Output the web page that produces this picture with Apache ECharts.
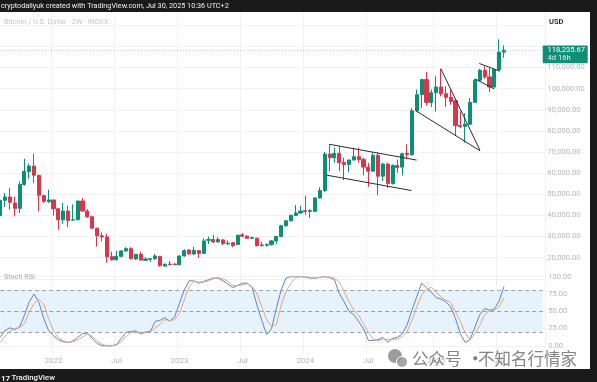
<!DOCTYPE html>
<html><head><meta charset="utf-8">
<style>html,body{margin:0;padding:0;background:#fff}#c{width:597px;height:382px}</style>
<script src="https://cdn.jsdelivr.net/npm/echarts@6/dist/echarts.min.js"></script>
</head><body><div id="c"></div>
<script>
// [open, close, low, high] per 2-week bar
const candles = [
[39840,47140,37620,48250],[47140,48730,43960,50630],[48730,46190,42690,53010],[45870,43330,39520,49040],
[43330,54600,41110,56180],[54600,60790,54120,66820],[60790,63330,57300,64600],[63330,59040,55390,69200],
[58880,49520,41900,59360],[49360,46660,45870,49840],[46500,47300,45870,52220],[47300,43170,39840,47460],
[43170,37930,33170,43300],[37930,42060,36030,45870],[42060,37620,34440,44600],[37780,37930,37620,45230],
[37930,46820,37800,46900],[46820,42060,41900,48250],[42060,39360,38730,43010],[39360,33970,33650,39840],
[33970,30320,25240,34100],[30320,29840,27620,31900],[29840,20480,17620,31270],[20480,19050,18570,22860],
[19050,20630,18570,23330],[20630,23170,20160,23650],[23170,24280,22860,24920],[24280,19520,19210,24920],
[19370,21590,18890,21750],[21590,18890,18570,22860],[18730,19370,18410,20160],[19210,19520,18100,19840],
[19520,20790,18890,21750],[20630,16190,15710,20790],[16030,16830,15710,17300],[16980,16670,16510,18410],
[16980,16670,16510,17300],[16670,20790,16350,21110],[20790,23330,20480,23970],[23650,21750,21430,23970],
[21750,23490,21270,25240],[23330,22060,19840,23650],[22060,27940,21750,29200],[28250,28570,26510,30000],
[28570,27460,26820,30790],[27460,28570,27140,29680],[28410,26670,26030,28730],[26510,26820,26030,28100],
[27140,25710,24920,27460],[26190,30630,26030,30950],[30790,30160,29680,31590],[30160,29200,29050,30630],
[29200,29520,28730,30000],[29200,25710,25240,29520],[26030,25710,25240,27620],[25870,26190,25240,26820],
[26190,27940,25710,28410],[27940,30000,26510,30320],[30000,35080,29680,35550],[35080,37460,34760,37930],
[37460,40000,37140,40470],[40000,41110,39840,44920],[41110,42060,40790,44600],[42220,41900,40310,49360],
[41900,42220,38730,43010],[41900,48250,41580,48570],[48250,51740,47930,53330],[51740,69040,50950,70000],
[69040,67300,60950,73650],[67300,69360,64910,72060],[69360,64910,60950,72850],[65070,64120,56660,67300],
[64120,66180,60470,66500],[66180,67770,66180,72060],[67770,66500,64910,72060],[66500,62850,59040,67300],
[62850,60950,53490,64910],[60950,68410,60630,69680],[68410,58570,49520,69680],[58570,64280,56180,64910],
[64280,55080,53010,64910],[55080,63650,54600,64120],[63650,62690,60160,66500],[62850,69200,58880,69680],
[69360,68880,66500,73650],[68800,89520,68100,90790],[89520,97140,89200,99520],[97140,104280,90790,104600],
[104280,93490,91900,107930],[93490,98090,91270,99520],[98090,100790,89200,105870],[100790,97610,96340,109360],
[97610,95870,91270,101110],[95870,93960,92380,99520],[94280,82540,77620,94760],[82540,82060,81270,89200],
[82060,83170,74440,88410],[83170,93490,82850,95550],[93490,103960,93170,104600],[103960,108730,103490,109360],
[108730,105550,104600,110630],[105550,100790,98410,109830],[100790,109040,100310,109360],[109040,117300,108250,123330],
[117300,118235.67,114600,120470]
];
const stochK = [12.3,22,26,23.5,27,44,63.7,75,62.7,39.2,22,14.7,8.8,5.9,4.9,6.9,12.3,17.6,18.6,10.8,3.4,0,0,0,1.5,10.8,19.6,20.6,21.6,17.2,20,21,35.3,36.8,40.7,35.8,41.7,61.3,80.9,94,94,90.7,
93.1,95.6,98,98,94.1,89.2,84.3,87.3,90.7,90.7,84.3,58.8,36.8,16.2,24.5,53.9,80.9,98,100,100,100,99.5,98,98,99,100,99,95.6,76,63.7,50,45.1,35.3,24.5,7.8,7.8,8.8,12.3,4.9,10.8,12.3,
17.2,30.4,51.5,71.1,90.7,84.3,77.5,69.6,67.6,63.7,56.4,39.2,17.2,4.9,8.8,27,45.1,53.9,51.5,52.9,64.7,85.8];
const stochD = [4.9,13.7,21,24.5,26.5,31.9,49,61.3,67.2,60.3,39.2,22,12.3,6.9,4.9,5.9,8.8,12.7,17.2,13.7,7.4,2.5,0,0,1,5.9,13.7,19.6,21,18.6,19.1,20.6,26,30.9,38.2,35.8,38.2,46.6,66.2,85.8,93.1,92.2,
92.2,94.1,97.1,98.5,97.1,93.1,87.3,87.3,88.2,89.7,85.8,76,56.4,38.2,27.9,30.4,58.8,78.4,90.7,99,100,100,99,98,99,100,99.5,98,92.2,78.4,63.7,51.5,44.1,31.9,19.6,9.8,7.4,9.8,8.8,8.8,9.8,
13.7,20.6,36.8,56.4,73.5,82.4,84.3,77.5,71.1,66.2,62.7,49,35.3,18.6,8.8,17.2,29.4,45.1,50.5,51.5,56.4,69.6];
// hand-drawn trend lines: [bar index, price]
const channelTop = [[67.93,73670],[85.97,66190]];
const channelBottom = [[67.4,59050],[84.9,51760]];
const wedgeUpper = [[90.98,109380],[99.03,70950]];
const wedgeLower = [[85.82,89520],[99.03,70620]];
const flagTop = [[98.9,111900],[103.16,108240]];
const flagBottom = [[98,104620],[102,99860]];
const timeTicks = {11:'2022',24:'Jul',37:'2023',50:'Jul',63:'2024',76:'Jul',90:'2025',103:'Jul'};
const stochTicks = [0,25,50,75,100];
const lastPrice = 118235.67;
const totalSlots = 113;
const categories = Array.from({length: totalSlots}, (_, i) => timeTicks[i] || '');

const UP = '#0b8f76', DOWN = '#d9364c', GRID = '#eff1f4', AXIS = '#b4b6bb';
const FONT = 'Roboto, sans-serif';
const fmt = v => v.toLocaleString('en-US', {minimumFractionDigits: 2, maximumFractionDigits: 2});
const chart = echarts.init(document.getElementById('c'), null, {renderer: 'canvas'});
const gridLeft = -2.24, gridWidth = 547.4;
const trend = (name, data) => ({name, type: 'line', xAxisIndex: 2, yAxisIndex: 0, data, symbol: 'none', silent: true, z: 5,
  lineStyle: {color: '#2a2a2a', width: 1}});
const xBase = {type: 'category', data: categories, boundaryGap: true,
  axisLine: {show: false}, axisTick: {show: false, alignWithLabel: true},
  splitLine: {show: true, interval: (i, v) => v !== '', lineStyle: {color: GRID, width: 1}}};
chart.setOption({
  animation: false,
  backgroundColor: '#fff',
  grid: [
    {left: gridLeft, top: 4.1, width: gridWidth, height: 274.7, outerBoundsMode: 'none'},
    {left: gridLeft, top: 276.7, width: gridWidth, height: 76, outerBoundsMode: 'none'}
  ],
  xAxis: [
    Object.assign({}, xBase, {gridIndex: 0, axisLabel: {show: false}}),
    Object.assign({}, xBase, {gridIndex: 1, axisLabel: {show: true, interval: 0, color: AXIS, fontSize: 8, fontFamily: FONT, margin: 4}}),
    {type: 'value', gridIndex: 0, min: -0.5, max: totalSlots - 0.5, show: false}
  ],
  yAxis: [
    {type: 'value', gridIndex: 0, position: 'right', min: 10000, max: 140000, interval: 10000,
      axisLine: {show: false}, axisTick: {show: false},
      splitLine: {lineStyle: {color: GRID, width: 1}},
      axisLabel: {margin: 2, color: AXIS, fontSize: 7.6, fontFamily: FONT, align: 'left',
        formatter: v => (v >= 20000 && v <= 110000) ? fmt(v) : ''}},
    {type: 'value', gridIndex: 1, position: 'right', min: -10, max: 100,
      axisLine: {show: false}, axisTick: {show: false, customValues: stochTicks},
      splitLine: {lineStyle: {color: GRID, width: 1}},
      axisLabel: {customValues: stochTicks, margin: 3, color: AXIS, fontSize: 7.6, fontFamily: FONT, align: 'left', formatter: v => fmt(v)}}
  ],
  series: [
    {type: 'candlestick', xAxisIndex: 0, yAxisIndex: 0, data: candles, barWidth: 3.6, z: 3,
      itemStyle: {color: UP, color0: DOWN, borderColor: UP, borderColor0: DOWN, borderWidth: 1},
      markLine: {silent: true, symbol: 'none', label: {show: false},
        lineStyle: {color: '#9fd8cb', type: [1, 2], width: 1},
        data: [[{xAxis: 0, yAxis: lastPrice}, {xAxis: totalSlots - 1, yAxis: lastPrice}]]}},
    trend('channelTop', channelTop), trend('channelBottom', channelBottom),
    trend('wedgeUpper', wedgeUpper), trend('wedgeLower', wedgeLower),
    trend('flagTop', flagTop), trend('flagBottom', flagBottom),
    {name: 'K', type: 'line', xAxisIndex: 1, yAxisIndex: 1, data: stochK, symbol: 'none', z: 4,
      lineStyle: {color: '#5f84c2', width: 1},
      markArea: {silent: true, itemStyle: {color: '#e6f2fc'}, data: [[{xAxis: 0, yAxis: 20}, {xAxis: totalSlots - 1, yAxis: 80}]]},
      markLine: {silent: true, symbol: 'none', label: {show: false},
        lineStyle: {color: '#9a9fae', type: [4, 3], width: 1},
        data: [20, 50, 80].map(v => [{xAxis: 0, yAxis: v}, {xAxis: totalSlots - 1, yAxis: v}])}},
    {name: 'D', type: 'line', xAxisIndex: 1, yAxisIndex: 1, data: stochD, symbol: 'none', z: 4,
      lineStyle: {color: '#e6a679', width: 1}}
  ]
});
const tagY = chart.convertToPixel({yAxisIndex: 0}, lastPrice);
chart.setOption({graphic: [
  {type: 'rect', z: 200, shape: {x: 0, y: 0, width: 597, height: 12}, style: {fill: '#1a1a1a'}},
  {type: 'rect', z: 200, shape: {x: 0, y: 369, width: 597, height: 13}, style: {fill: '#1a1a1a'}},
  {type: 'rect', z: 200, shape: {x: 590, y: 0, width: 7, height: 382}, style: {fill: '#1a1a1a'}},
  {type: 'text', z: 201, style: {x: 1, y: 6, text: 'cryptodailyuk created with TradingView.com, Jul 30, 2025 10:36 UTC+2', fill: '#f0f0f0', font: '7.25px ' + FONT, textVerticalAlign: 'middle'}},
  {type: 'text', z: 201, style: {x: 11.5, y: 378.5, text: 'TradingView', fill: '#f0f0f0', font: '500 7.8px ' + FONT, textVerticalAlign: 'middle'}},
  {type: 'text', z: 201, style: {x: 1, y: 378.5, text: '17', fill: '#f0f0f0', font: 'bold 8px ' + FONT, textVerticalAlign: 'middle'}},
  {type: 'text', z: 201, style: {x: 4, y: 22, text: 'Bitcoin / U.S. Dollar · 2W · INDEX', fill: '#c4c6ca', font: '7.25px ' + FONT, textVerticalAlign: 'middle'}},
  {type: 'text', z: 201, style: {x: 4, y: 277, text: 'Stoch RSI', fill: '#a9abb0', font: '7.25px ' + FONT, textVerticalAlign: 'middle'}},
  {type: 'text', z: 201, style: {x: 549, y: 22, text: 'USD', fill: '#222', font: '600 7.5px ' + FONT, textVerticalAlign: 'middle'}},
  {type: 'rect', z: 201, shape: {x: 542.7, y: tagY - 4.5, width: 45, height: 17.6, r: 1}, style: {fill: '#0f8f78'}},
  {type: 'text', z: 202, style: {x: 547.5, y: tagY, text: fmt(lastPrice), fill: '#fff', font: '7.6px ' + FONT, textVerticalAlign: 'middle'}},
  {type: 'text', z: 202, style: {x: 547.5, y: tagY + 8, text: '4d 16h', fill: '#e4f4f0', font: '7.6px ' + FONT, textVerticalAlign: 'middle'}},
  {type: 'circle', z: 203, shape: {cx: 395, cy: 356, r: 7}, style: {fill: 'rgba(130,130,130,0.8)'}},
  {type: 'circle', z: 203, shape: {cx: 402, cy: 362, r: 5.5}, style: {fill: 'rgba(150,150,150,0.85)', stroke: '#fff', lineWidth: 1}},
  {type: 'text', z: 203, style: {x: 412, y: 358.5, text: '公众号', fill: 'rgba(125,125,125,0.95)', font: '16.5px "Noto Sans CJK SC"', textVerticalAlign: 'middle'}},
  {type: 'text', z: 203, style: {x: 467, y: 358.5, text: '·', fill: 'rgba(125,125,125,0.95)', font: 'bold 16.5px "Noto Sans CJK SC"', textVerticalAlign: 'middle'}},
  {type: 'text', z: 203, style: {x: 478, y: 358.5, text: '不知名行情家', fill: 'rgba(125,125,125,0.95)', font: '16.5px "Noto Sans CJK SC"', textVerticalAlign: 'middle'}}
]});
</script></body></html>
